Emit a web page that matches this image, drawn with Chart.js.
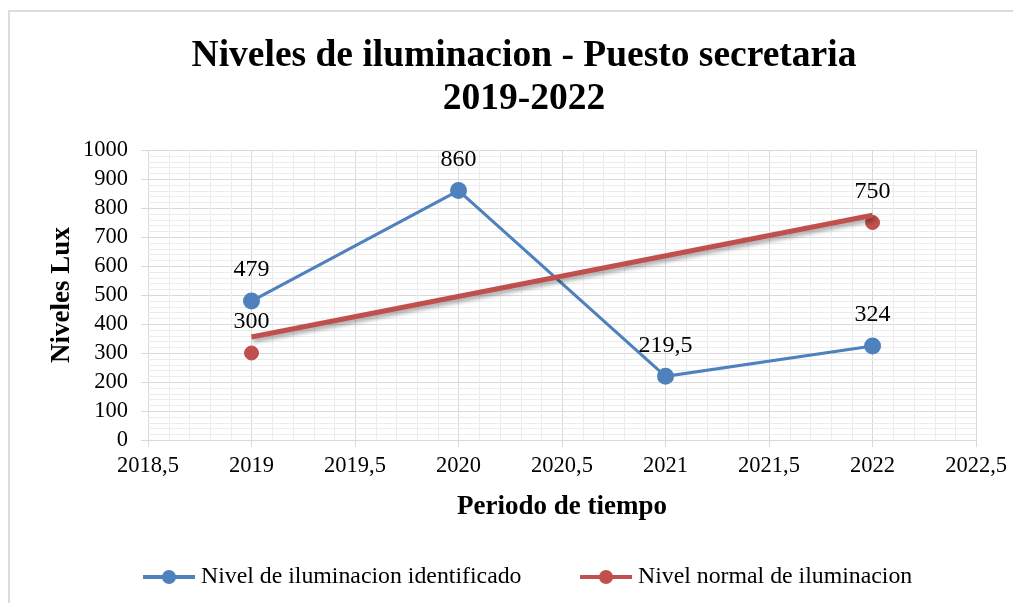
<!DOCTYPE html>
<html>
<head>
<meta charset="utf-8">
<script src="https://cdn.jsdelivr.net/npm/chart.js@4/dist/chart.umd.min.js"></script>
<style>
  html, body { margin: 0; padding: 0; background: #fff; }
  #wrap { position: absolute; left: 0; top: 0; width: 1013px; height: 603px; }
  #frame { position: absolute; left: 8px; top: 10px; width: 1005px; height: 593px; border-left: 2px solid #dcdcdc; border-top: 2px solid #dcdcdc; box-sizing: border-box; }
  canvas { position: absolute; left: 0; top: 0; }
</style>
</head>
<body>
<div id="wrap">
  <div id="frame"></div>
  <canvas id="luxChart" width="1013" height="603"></canvas>
</div>
<script>
const years = [2019, 2020, 2021, 2022];
const measured = [479, 860, 219.5, 324];

const normalYears = [2019, 2022];
const normalLevel = [300, 750];

// linear trend drawn over the normal level series
const trendYears = [2019, 2022];
const trendLevel = [355, 775];

const xTicks = [2018.5, 2019, 2019.5, 2020, 2020.5, 2021, 2021.5, 2022, 2022.5];
const yTicks = [0, 100, 200, 300, 400, 500, 600, 700, 800, 900, 1000];

const titleLines = ["Niveles de iluminacion - Puesto secretaria", "2019-2022"];
const seriesNames = ["Nivel de iluminacion identificado", "Nivel normal de iluminacion"];

const BLUE = "#4F81BD";
const RED = "#C0504D";
const SERIF = "'Liberation Serif', 'Times New Roman', serif";

function comma(v) {
    return String(v).replace(".", ",");
}

function toPoints(xs, ys) {
    return xs.map((x, i) => ({ x: x, y: ys[i] }));
}

// faint minor gridlines between the major ones
const minorGrid = {
    id: "minorGrid",
    beforeDatasetsDraw(chart) {
        const { ctx, chartArea: a, scales: { x, y } } = chart;
        ctx.save();
        ctx.strokeStyle = "#ececec";
        ctx.lineWidth = 1;
        ctx.beginPath();
        for (let v = 20; v < 1000; v += 20) {
            if (v % 100 === 0) continue;
            const py = Math.round(y.getPixelForValue(v)) + 0.5;
            ctx.moveTo(a.left, py);
            ctx.lineTo(a.right, py);
        }
        for (let k = 1; k < 40; k++) {
            if (k % 5 === 0) continue;
            const px = Math.round(x.getPixelForValue(2018.5 + k * 0.1)) + 0.5;
            ctx.moveTo(px, a.top);
            ctx.lineTo(px, a.bottom);
        }
        ctx.stroke();
        ctx.restore();
    }
};

// soft shadow under the trend line
const trendShadow = {
    id: "trendShadow",
    beforeDatasetDraw(chart, args) {
        if (args.index !== 2) return;
        const ctx = chart.ctx;
        ctx.save();
        ctx.shadowColor = "rgba(0,0,0,0.35)";
        ctx.shadowBlur = 4;
        ctx.shadowOffsetX = 2;
        ctx.shadowOffsetY = 3;
    },
    afterDatasetDraw(chart, args) {
        if (args.index !== 2) return;
        chart.ctx.restore();
    }
};

// value labels above the markers
const valueLabels = {
    id: "valueLabels",
    afterDatasetsDraw(chart) {
        const ctx = chart.ctx;
        ctx.save();
        ctx.font = "24px " + SERIF;
        ctx.fillStyle = "#000";
        ctx.textAlign = "center";
        ctx.textBaseline = "middle";
        [0, 1].forEach(i => {
            const meta = chart.getDatasetMeta(i);
            meta.data.forEach((pt, j) => {
                const v = chart.data.datasets[i].data[j].y;
                ctx.fillText(comma(v), pt.x, pt.y - 31);
            });
        });
        ctx.restore();
    }
};

// two-line heading and the legend row underneath the axis title
const headingAndKey = {
    id: "headingAndKey",
    afterDraw(chart) {
        const ctx = chart.ctx;
        ctx.save();
        ctx.fillStyle = "#000";
        ctx.textBaseline = "middle";
        ctx.textAlign = "center";
        ctx.font = "bold 37.5px " + SERIF;
        ctx.fillText(titleLines[0], 524, 56);
        ctx.fillText(titleLines[1], 524, 99);

        ctx.font = "23.8px " + SERIF;
        ctx.textAlign = "left";
        const colors = [BLUE, RED];
        const starts = [143, 580];
        const ky = 577;
        starts.forEach((sx, i) => {
            ctx.strokeStyle = colors[i];
            ctx.fillStyle = colors[i];
            ctx.lineWidth = 4;
            ctx.beginPath();
            ctx.moveTo(sx, ky);
            ctx.lineTo(sx + 52, ky);
            ctx.stroke();
            ctx.beginPath();
            ctx.arc(sx + 26, ky, 7, 0, Math.PI * 2);
            ctx.fill();
            ctx.fillStyle = "#000";
            ctx.fillText(seriesNames[i], sx + 58, ky);
        });
        ctx.restore();
    }
};

function build() {
    new Chart(document.getElementById("luxChart"), {
        type: "scatter",
        data: {
            datasets: [
                {
                    label: seriesNames[0],
                    data: toPoints(years, measured),
                    showLine: true,
                    borderColor: BLUE,
                    backgroundColor: BLUE,
                    borderWidth: 3,
                    pointRadius: 7,
                    pointHoverRadius: 7,
                    order: 2
                },
                {
                    label: seriesNames[1],
                    data: toPoints(normalYears, normalLevel),
                    showLine: false,
                    borderColor: RED,
                    backgroundColor: RED,
                    pointRadius: 7,
                    pointHoverRadius: 7,
                    order: 1
                },
                {
                    label: "trend",
                    data: toPoints(trendYears, trendLevel),
                    showLine: true,
                    borderColor: RED,
                    borderWidth: 5,
                    pointRadius: 0,
                    order: 0
                }
            ]
        },
        options: {
            responsive: false,
            animation: false,
            layout: { padding: { left: 0, right: 36, top: 150, bottom: 63 } },
            plugins: {
                tooltip: { enabled: false },
                title: { display: false },
                legend: { display: false }
            },
            scales: {
                x: {
                    type: "linear",
                    min: 2018.5,
                    max: 2022.5,
                    afterBuildTicks(scale) {
                        scale.ticks = xTicks.map(v => ({ value: v }));
                    },
                    afterFit(scale) {
                        scale.height = 100;
                    },
                    ticks: {
                        color: "#000",
                        font: { family: SERIF, size: 22.5 },
                        padding: 6,
                        maxRotation: 0,
                        autoSkip: false,
                        callback: v => comma(v)
                    },
                    grid: { color: "#d9d9d9", tickLength: 7, tickColor: "#d9d9d9" },
                    border: { color: "#d9d9d9" },
                    title: {
                        display: true,
                        text: "Periodo de tiempo",
                        color: "#000",
                        font: { family: SERIF, size: 27, weight: "bold" },
                        padding: { top: 0, bottom: 17 }
                    }
                },
                y: {
                    min: 0,
                    max: 1000,
                    afterBuildTicks(scale) {
                        scale.ticks = yTicks.map(v => ({ value: v }));
                    },
                    afterFit(scale) {
                        scale.width = 148;
                    },
                    ticks: {
                        color: "#000",
                        font: { family: SERIF, size: 22.5 },
                        padding: 13,
                        autoSkip: false,
                        callback: v => String(v)
                    },
                    grid: { color: "#d9d9d9", tickLength: 7, tickColor: "#d9d9d9" },
                    border: { color: "#d9d9d9" },
                    title: {
                        display: true,
                        text: "Niveles Lux",
                        color: "#000",
                        font: { family: SERIF, size: 27, weight: "bold" },
                        padding: { top: 46, bottom: 0 }
                    }
                }
            }
        },
        plugins: [minorGrid, trendShadow, valueLabels, headingAndKey]
    });
}

Promise.all([
    document.fonts.load("22px 'Liberation Serif'"),
    document.fonts.load("bold 22px 'Liberation Serif'")
]).then(build, build);
</script>
</body>
</html>
